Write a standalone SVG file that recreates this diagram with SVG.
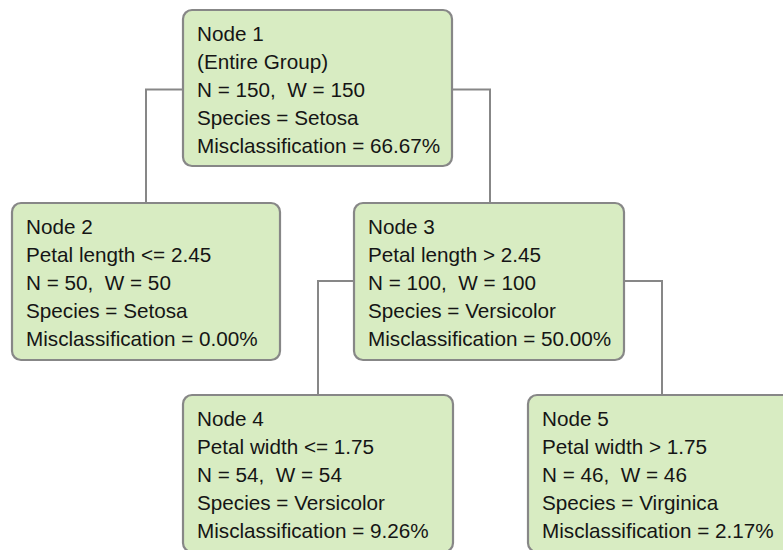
<svg xmlns="http://www.w3.org/2000/svg" width="783" height="550" viewBox="0 0 783 550">
<style>
.box{fill:#d8ecc2;stroke:#878787;stroke-width:2.2}
.t{font-family:"Liberation Sans",Arial,sans-serif;font-size:20.7px;fill:#151515;white-space:pre}
.c{fill:none;stroke:#878787;stroke-width:2}
</style>
<rect width="783" height="550" fill="#ffffff"/>
<g id="connectors">
<path class="c" d="M183,89.5 H146 V203"/>
<path class="c" d="M452,89.5 H490 V203"/>
<path class="c" d="M354,281 H318 V395"/>
<path class="c" d="M624,281 H662 V395"/>
</g>
<g id="node1">
<rect class="box" x="183" y="10" width="269" height="156" rx="9"/>
<text class="t" x="197" y="40.5">Node 1</text>
<text class="t" x="197" y="68.5">(Entire Group)</text>
<text class="t" x="197" y="96.5" xml:space="preserve">N = 150,  W = 150</text>
<text class="t" x="197" y="124.5">Species = Setosa</text>
<text class="t" x="197" y="152.5">Misclassification = 66.67%</text>
</g>
<g id="node2">
<rect class="box" x="12" y="203" width="268" height="157" rx="9"/>
<text class="t" x="26" y="233.5">Node 2</text>
<text class="t" x="26" y="261.5">Petal length &lt;= 2.45</text>
<text class="t" x="26" y="289.5" xml:space="preserve">N = 50,  W = 50</text>
<text class="t" x="26" y="317.5">Species = Setosa</text>
<text class="t" x="26" y="345.5">Misclassification = 0.00%</text>
</g>
<g id="node3">
<rect class="box" x="354" y="203" width="270" height="157" rx="9"/>
<text class="t" x="368" y="233.5">Node 3</text>
<text class="t" x="368" y="261.5">Petal length &gt; 2.45</text>
<text class="t" x="368" y="289.5" xml:space="preserve">N = 100,  W = 100</text>
<text class="t" x="368" y="317.5">Species = Versicolor</text>
<text class="t" x="368" y="345.5">Misclassification = 50.00%</text>
</g>
<g id="node4">
<rect class="box" x="183" y="395" width="270" height="157" rx="9"/>
<text class="t" x="197" y="426">Node 4</text>
<text class="t" x="197" y="454">Petal width &lt;= 1.75</text>
<text class="t" x="197" y="482" xml:space="preserve">N = 54,  W = 54</text>
<text class="t" x="197" y="510">Species = Versicolor</text>
<text class="t" x="197" y="538">Misclassification = 9.26%</text>
</g>
<g id="node5">
<rect class="box" x="528" y="395" width="270" height="157" rx="9"/>
<text class="t" x="542" y="426">Node 5</text>
<text class="t" x="542" y="454">Petal width &gt; 1.75</text>
<text class="t" x="542" y="482" xml:space="preserve">N = 46,  W = 46</text>
<text class="t" x="542" y="510">Species = Virginica</text>
<text class="t" x="542" y="538">Misclassification = 2.17%</text>
</g>
</svg>
